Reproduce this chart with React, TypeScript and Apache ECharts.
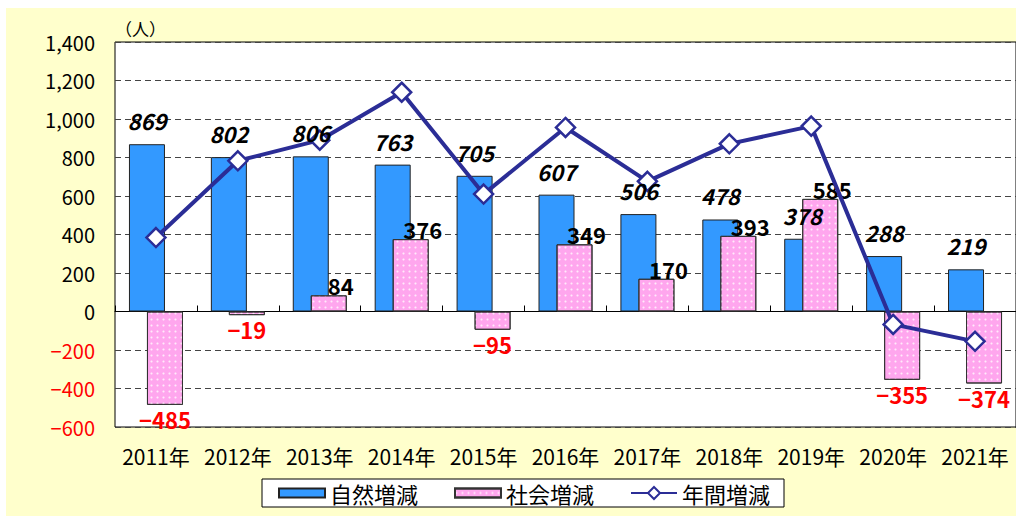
import React, { useEffect, useRef } from "react";
import * as echarts from "echarts";

const categories = ["2011年", "2012年", "2013年", "2014年", "2015年", "2016年", "2017年", "2018年", "2019年", "2020年", "2021年"];
const naturalChange = [869, 802, 806, 763, 705, 607, 506, 478, 378, 288, 219];
const socialChange = [-485, -19, 84, 376, -95, 349, 170, 393, 585, -355, -374];
const annualChange = [384, 783, 890, 1139, 610, 956, 676, 871, 963, -67, -155];
const seriesNames = ["自然増減", "社会増減", "年間増減"];
const yMin = -600;
const yMax = 1400;
const yStep = 200;
const unitLabel = "（人）";

const FONT = "'Noto Sans CJK JP', 'Noto Sans', sans-serif";

const fmt = (v: number) => (v < 0 ? "−" : "") + Math.abs(v).toLocaleString("en-US");

export default function App() {
  const ref = useRef<HTMLDivElement>(null);
  useEffect(() => {
    if (!ref.current) return;
    const chart = echarts.init(ref.current, null, { renderer: "svg" });
    const socialData = socialChange.map((v) => ({
      value: v,
      label:
        v < 0
          ? { position: "bottom", distance: 3, color: "#ff0000", offset: [0, 0] }
          : { position: "top", distance: 5, color: "#000", offset: [12, 6] },
    }));
    chart.setOption({
      animation: false,
      backgroundColor: "transparent",
      textStyle: { fontFamily: FONT },
      grid: {
        left: 115,
        top: 42,
        right: -1,
        bottom: 89,
        show: true,
        backgroundColor: "#ffffff",
        borderColor: "#000",
        borderWidth: 1,
        containLabel: false,
      },
      legend: {
        left: 262,
        top: 479,
        padding: [3, 14, 3, 16],
        backgroundColor: "#ffffff",
        borderColor: "#000",
        borderWidth: 1,
        borderRadius: 0,
        itemWidth: 46,
        itemHeight: 15,
        itemGap: 36,
        textStyle: { fontSize: 22, color: "#000", fontFamily: FONT },
        data: [
          { name: seriesNames[0], icon: "path://M0 0H46V9H0Z" },
          { name: seriesNames[1], icon: "path://M0 0H46V9H0Z" },
          { name: seriesNames[2] },
        ],
      },
      xAxis: [
        {
          type: "category",
          data: categories,
          position: "bottom",
          axisLine: { onZero: true, lineStyle: { color: "#000", width: 1 } },
          axisTick: { show: true, inside: true, length: 6, interval: 0, lineStyle: { color: "#000" } },
          axisLabel: { show: false },
          splitLine: { show: false },
        },
        {
          type: "category",
          data: categories,
          position: "bottom",
          axisLine: { show: false, onZero: false },
          axisTick: { show: false },
          axisLabel: { show: true, interval: 0, fontSize: 21, color: "#000", margin: 18, fontFamily: FONT },
          splitLine: { show: false },
        },
      ],
      yAxis: {
        type: "value",
        min: yMin,
        max: yMax,
        interval: yStep,
        name: unitLabel,
        nameLocation: "end",
        nameGap: 5,
        nameTextStyle: { fontSize: 17, color: "#000", align: "left", fontFamily: FONT },
        axisLine: { show: false },
        axisTick: { show: false },
        axisLabel: {
          fontSize: 20,
          margin: 20,
          fontFamily: FONT,
          formatter: (v: number) => fmt(v),
          color: (v: any) => (Number(v) < 0 ? "#ff0000" : "#000"),
        },
        splitLine: { show: true, lineStyle: { color: "#444", type: [6, 4], width: 1 } },
      },
      series: [
        {
          name: seriesNames[0],
          type: "bar",
          xAxisIndex: 0,
          data: naturalChange,
          barWidth: 36,
          barGap: "-50%",
          itemStyle: { color: "#3399ff", borderColor: "#222", borderWidth: 1 },
          label: { show: false },
          z: 2,
        },
        {
          name: seriesNames[1],
          type: "bar",
          xAxisIndex: 0,
          data: socialData,
          barWidth: 36,
          barGap: "-50%",
          itemStyle: {
            color: "#ffa6ee",
            borderColor: "#333",
            borderWidth: 1,
            decal: {
              symbol: "circle",
              symbolSize: 0.7,
              color: "rgba(255,255,255,0.75)",
              dashArrayX: [[3, 3]],
              dashArrayY: [3, 3],
              rotation: 0,
            },
          },
          label: {
            show: true,
            fontSize: 22,
            fontWeight: "bold",
            fontFamily: FONT,
            formatter: (p: any) => fmt(p.value),
          },
          z: 3,
        },
        {
          name: seriesNames[2],
          type: "line",
          xAxisIndex: 0,
          data: annualChange,
          symbol: "diamond",
          symbolSize: 19,
          lineStyle: { color: "#2b2d96", width: 4 },
          itemStyle: { color: "#ffffff", borderColor: "#2b2d96", borderWidth: 2.5 },
          label: { show: false },
          z: 5,
        },
        {
          name: "naturalLabels",
          type: "line",
          xAxisIndex: 0,
          data: naturalChange,
          symbol: "circle",
          symbolSize: 2,
          showSymbol: true,
          lineStyle: { width: 0, color: "transparent" },
          itemStyle: { color: "transparent", borderWidth: 0 },
          silent: true,
          label: {
            show: true,
            position: "top",
            distance: 12,
            offset: [-9, 0],
            fontSize: 22,
            fontStyle: "italic",
            fontWeight: "bold",
            color: "#000",
            fontFamily: FONT,
            formatter: (p: any) => fmt(p.value),
          },
          z: 10,
        },
      ],
    });
    return () => chart.dispose();
  }, []);
  return (
    <div style={{ position: "fixed", left: 0, top: 0, width: 1016, height: 516, background: "#ffffff", overflow: "hidden" }}>
      <div style={{ position: "absolute", left: 6, top: 8, right: 0, bottom: 0, background: "#ffffcc" }} />
      <div ref={ref} style={{ position: "absolute", left: 0, top: 0, width: 1016, height: 516 }} />
    </div>
  );
}
